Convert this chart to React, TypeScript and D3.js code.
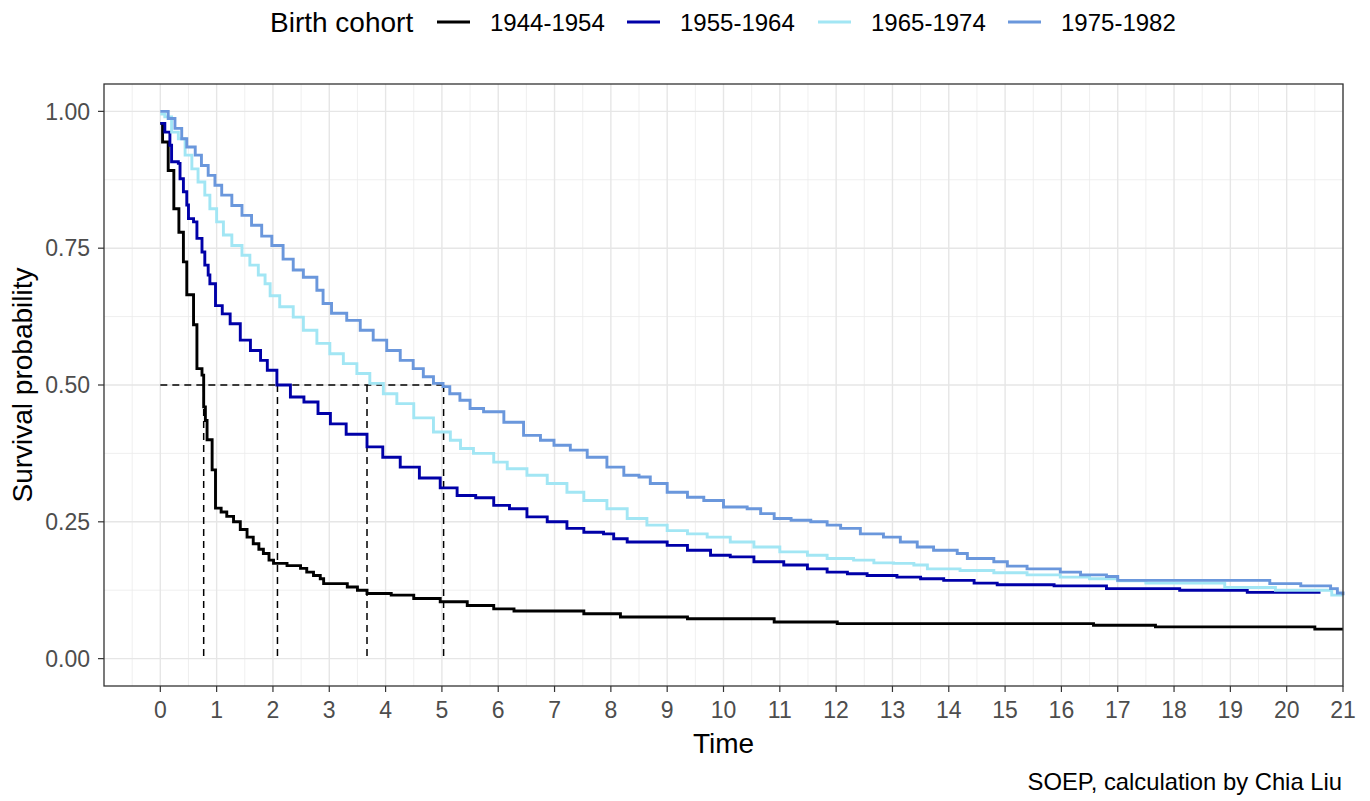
import React from "react";
import * as d3 from "d3";

const cohortLabels = ["1944-1954", "1955-1964", "1965-1974", "1975-1982"];
const cohortColors = ["#000000", "#0000A8", "#A2E6F4", "#6A97DC"];

const cohort1944: [number, number][] = [
  [0, 0.978], [0.04, 0.944], [0.14, 0.892], [0.24, 0.822], [0.33, 0.779], [0.41, 0.725], [0.47, 0.665],
  [0.59, 0.61], [0.65, 0.53], [0.74, 0.518], [0.77, 0.46], [0.8, 0.435], [0.83, 0.4], [0.92, 0.345],
  [0.98, 0.275], [1.08, 0.268], [1.18, 0.26], [1.3, 0.25], [1.42, 0.236], [1.54, 0.222], [1.65, 0.21],
  [1.75, 0.2], [1.83, 0.192], [1.93, 0.18], [2.01, 0.174], [2.25, 0.17], [2.49, 0.165], [2.6, 0.158],
  [2.72, 0.152], [2.84, 0.146], [2.9, 0.137], [3.32, 0.131], [3.5, 0.125], [3.67, 0.119], [4.1, 0.116],
  [4.5, 0.11], [4.97, 0.104], [5.45, 0.097], [5.92, 0.091], [6.28, 0.087], [7.52, 0.082], [8.17, 0.076],
  [9.36, 0.073], [10.9, 0.067], [12.02, 0.064], [16.57, 0.061], [17.67, 0.058], [20.5, 0.054], [21, 0.054],
];

const cohort1955: [number, number][] = [
  [0, 0.978], [0.08, 0.962], [0.17, 0.938], [0.2, 0.908], [0.32, 0.905], [0.35, 0.877], [0.41, 0.853],
  [0.47, 0.829], [0.5, 0.804], [0.59, 0.798], [0.65, 0.768], [0.74, 0.743], [0.79, 0.719], [0.85, 0.701],
  [0.88, 0.685], [0.98, 0.645], [1.1, 0.63], [1.24, 0.612], [1.42, 0.582], [1.6, 0.563], [1.78, 0.545],
  [1.9, 0.527], [2.07, 0.5], [2.31, 0.478], [2.55, 0.469], [2.8, 0.448], [3.02, 0.429], [3.3, 0.41],
  [3.67, 0.387], [3.95, 0.368], [4.26, 0.35], [4.6, 0.33], [4.97, 0.312], [5.27, 0.298], [5.6, 0.294],
  [5.92, 0.28], [6.2, 0.274], [6.51, 0.259], [6.87, 0.25], [7.22, 0.238], [7.52, 0.231], [7.87, 0.228],
  [8.05, 0.219], [8.29, 0.213], [9.0, 0.207], [9.36, 0.198], [9.77, 0.189], [10.12, 0.186], [10.54, 0.177],
  [11.07, 0.171], [11.49, 0.164], [11.84, 0.158], [12.2, 0.155], [12.55, 0.152], [13.08, 0.149],
  [13.5, 0.146], [13.91, 0.143], [14.45, 0.138], [14.86, 0.135], [15.87, 0.133], [16.8, 0.128],
  [18.1, 0.125], [19.3, 0.121], [20.6, 0.121],
];

const cohort1965: [number, number][] = [
  [0, 0.995], [0.08, 0.99], [0.2, 0.962], [0.32, 0.95], [0.44, 0.92], [0.56, 0.895], [0.67, 0.871],
  [0.79, 0.847], [0.88, 0.822], [1.0, 0.798], [1.12, 0.774], [1.27, 0.755], [1.45, 0.737], [1.59, 0.719],
  [1.74, 0.701], [1.86, 0.685], [1.95, 0.663], [2.12, 0.643], [2.36, 0.624], [2.54, 0.6], [2.78, 0.576],
  [3.01, 0.557], [3.25, 0.539], [3.49, 0.521], [3.72, 0.503], [3.96, 0.484], [4.2, 0.466], [4.5, 0.44],
  [4.85, 0.414], [5.15, 0.399], [5.33, 0.384], [5.56, 0.375], [5.92, 0.359], [6.16, 0.347], [6.51, 0.335],
  [6.87, 0.32], [7.22, 0.304], [7.52, 0.289], [7.93, 0.274], [8.29, 0.256], [8.64, 0.244], [9.0, 0.234],
  [9.36, 0.228], [9.71, 0.222], [10.12, 0.213], [10.54, 0.204], [11.0, 0.195], [11.49, 0.189],
  [11.84, 0.183], [12.31, 0.18], [12.67, 0.175], [13.02, 0.174], [13.38, 0.171], [13.62, 0.164],
  [14.2, 0.161], [14.8, 0.157], [15.39, 0.153], [15.98, 0.149], [16.5, 0.146], [17.0, 0.142],
  [17.5, 0.138], [18.9, 0.13], [19.8, 0.125], [20.8, 0.116], [21, 0.116],
];

const cohort1975: [number, number][] = [
  [0, 1.0], [0.14, 0.987], [0.26, 0.969], [0.38, 0.95], [0.47, 0.935], [0.62, 0.92], [0.73, 0.901],
  [0.85, 0.883], [0.97, 0.865], [1.09, 0.847], [1.27, 0.828], [1.45, 0.81], [1.62, 0.792], [1.8, 0.772],
  [1.98, 0.755], [2.18, 0.73], [2.36, 0.71], [2.54, 0.697], [2.78, 0.673], [2.89, 0.649], [3.04, 0.631],
  [3.31, 0.618], [3.55, 0.6], [3.78, 0.582], [4.02, 0.563], [4.26, 0.545], [4.49, 0.53], [4.67, 0.515],
  [4.85, 0.503], [5.02, 0.497], [5.14, 0.484], [5.32, 0.472], [5.5, 0.457], [5.74, 0.451], [6.1, 0.432],
  [6.45, 0.408], [6.75, 0.399], [6.99, 0.39], [7.28, 0.381], [7.58, 0.368], [7.93, 0.35], [8.23, 0.335],
  [8.5, 0.332], [8.7, 0.32], [9.0, 0.304], [9.36, 0.295], [9.65, 0.289], [10.0, 0.277], [10.42, 0.274],
  [10.66, 0.265], [10.9, 0.256], [11.2, 0.253], [11.55, 0.25], [11.84, 0.244], [12.08, 0.238],
  [12.43, 0.228], [12.84, 0.222], [13.14, 0.213], [13.44, 0.204], [13.73, 0.198], [14.15, 0.192],
  [14.33, 0.183], [14.8, 0.177], [15.04, 0.169], [15.39, 0.164], [15.98, 0.158], [16.34, 0.153],
  [16.8, 0.15], [17.0, 0.143], [19.7, 0.137], [20.25, 0.133], [20.78, 0.128], [20.9, 0.12], [21, 0.116],
];

const cohorts = [cohort1944, cohort1955, cohort1965, cohort1975];
const medianTimes = [0.77, 2.08, 3.67, 5.03];
const xTicks = d3.range(0, 22);
const yTicks = [0, 0.25, 0.5, 0.75, 1.0];
const xMinor = d3.range(-0.5, 21, 1);
const yMinor = [0.125, 0.375, 0.625, 0.875];

const W = 1370;
const H = 801;
const P = { left: 104, right: 1343, top: 84, bottom: 686 };
const FONT = "'Liberation Sans', Arial, sans-serif";

export default function App() {
  const x = d3.scaleLinear().domain([-1, 21]).range([P.left, P.right]);
  const y = d3.scaleLinear().domain([-0.05, 1.05]).range([P.bottom, P.top]);
  const line = d3
    .line<[number, number]>()
    .x((d) => x(d[0]))
    .y((d) => y(d[1]))
    .curve(d3.curveStepAfter);

  const legendX = [437, 627, 818, 1008];

  return (
    <svg
      width={W}
      height={H}
      style={{ position: "absolute", left: 0, top: 0, background: "#fff" }}
      fontFamily={FONT}
    >
      <rect x={0} y={0} width={W} height={H} fill="#fff" />
      <g>
        {xMinor.map((t) => (
          <line key={"xm" + t} x1={x(t)} x2={x(t)} y1={P.top} y2={P.bottom} stroke="#EBEBEB" strokeWidth={0.8} />
        ))}
        {yMinor.map((t) => (
          <line key={"ym" + t} x1={P.left} x2={P.right} y1={y(t)} y2={y(t)} stroke="#EBEBEB" strokeWidth={0.8} />
        ))}
        {xTicks.map((t) => (
          <line key={"xg" + t} x1={x(t)} x2={x(t)} y1={P.top} y2={P.bottom} stroke="#E6E6E6" strokeWidth={1.4} />
        ))}
        {yTicks.map((t) => (
          <line key={"yg" + t} x1={P.left} x2={P.right} y1={y(t)} y2={y(t)} stroke="#E6E6E6" strokeWidth={1.4} />
        ))}
      </g>
      <g stroke="#000" strokeWidth={1.5} strokeDasharray="7,5" fill="none">
        <line x1={x(0)} x2={x(d3.max(medianTimes)!)} y1={y(0.5)} y2={y(0.5)} />
        {medianTimes.map((m) => (
          <line key={"m" + m} x1={x(m)} x2={x(m)} y1={y(0.5)} y2={y(0)} />
        ))}
      </g>
      <g fill="none">
        {cohorts.map((c, i) => (
          <path key={cohortLabels[i]} d={line(c) || ""} stroke={cohortColors[i]} strokeWidth={2.9} />
        ))}
      </g>
      <rect
        x={P.left}
        y={P.top}
        width={P.right - P.left}
        height={P.bottom - P.top}
        fill="none"
        stroke="#333"
        strokeWidth={1.3}
      />
      <g>
        {xTicks.map((t) => (
          <g key={"xt" + t}>
            <line x1={x(t)} x2={x(t)} y1={P.bottom} y2={P.bottom + 6} stroke="#333" strokeWidth={1.2} />
            <text x={x(t)} y={P.bottom + 32} textAnchor="middle" fontSize={23} fill="#4D4D4D">
              {t}
            </text>
          </g>
        ))}
      </g>
      <g>
        {yTicks.map((t) => (
          <g key={"yt" + t}>
            <line x1={P.left - 6} x2={P.left} y1={y(t)} y2={y(t)} stroke="#333" strokeWidth={1.2} />
            <text x={P.left - 14} y={y(t) + 8.3} textAnchor="end" fontSize={23} fill="#4D4D4D">
              {d3.format(".2f")(t)}
            </text>
          </g>
        ))}
      </g>
      <text x={(P.left + P.right) / 2} y={753} textAnchor="middle" fontSize={28} fill="#000">
        Time
      </text>
      <text
        transform={`translate(32, ${(P.top + P.bottom) / 2}) rotate(-90)`}
        textAnchor="middle"
        fontSize={28}
        fill="#000"
      >
        Survival probability
      </text>
      <text x={270} y={32} fontSize={28} fill="#000">
        Birth cohort
      </text>
      {cohortLabels.map((lab, i) => (
        <g key={"lg" + lab}>
          <line x1={legendX[i]} x2={legendX[i] + 33} y1={22} y2={22} stroke={cohortColors[i]} strokeWidth={3} />
          <text x={legendX[i] + 53} y={31} fontSize={24} fill="#000">
            {lab}
          </text>
        </g>
      ))}
      <text x={1342} y={790} textAnchor="end" fontSize={23.8} fill="#000">
        SOEP, calculation by Chia Liu
      </text>
    </svg>
  );
}
